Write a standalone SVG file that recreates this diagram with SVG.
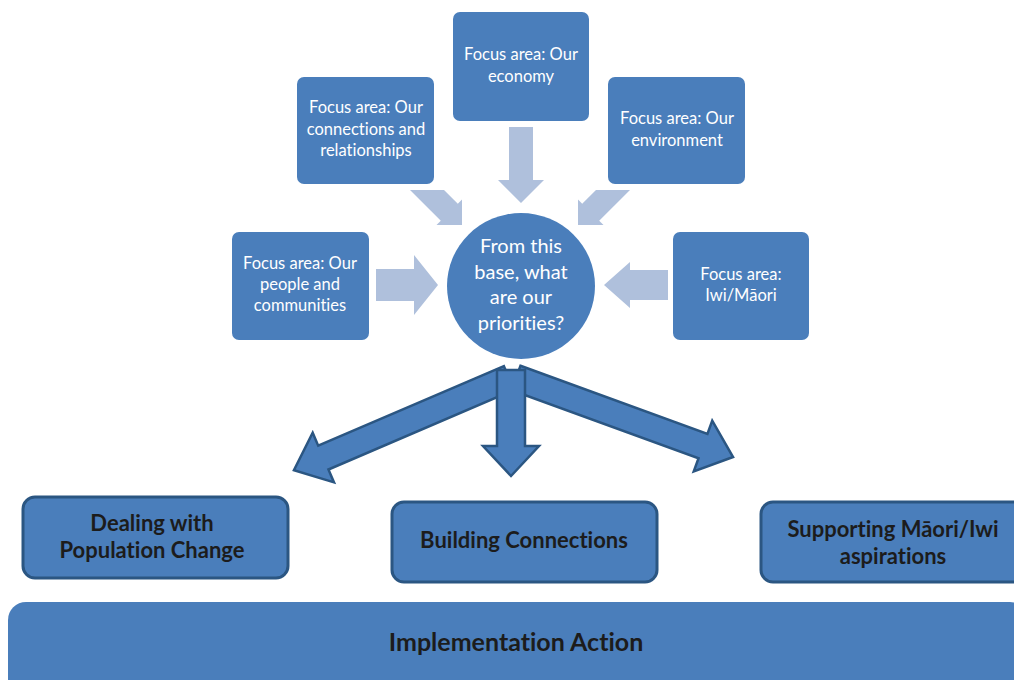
<svg xmlns="http://www.w3.org/2000/svg" width="1014" height="680" viewBox="0 0 1014 680">
<style>
.box{fill:#4a7ebb;}
.bbox{fill:#4a7ebb;stroke:#2b5682;stroke-width:3;}
text{font-variant-ligatures:none;}
.t{font-family:Lato,"Open Sans",sans-serif;font-size:16.5px;fill:#ffffff;text-anchor:middle;}
.c{font-family:Lato,"Open Sans",sans-serif;font-size:20px;fill:#ffffff;text-anchor:middle;}
.b{font-family:Lato,"Open Sans",sans-serif;font-size:22px;font-weight:bold;fill:#1c1c1c;text-anchor:middle;}
.big{font-family:Lato,"Open Sans",sans-serif;font-size:25px;font-weight:bold;fill:#1c1c1c;text-anchor:middle;}
.la{fill:#afc0dc;}
.da{fill:#4a7ebb;stroke:#2b5682;stroke-width:2.5;stroke-linejoin:miter;}
</style>
<rect width="1014" height="680" fill="#ffffff"/>
<g id="connectors">
<polygon class="la" points="376,269 414,269 414,255 438,285 414,315 414,301 376,301"/>
<polygon class="la" points="668,270 630,270 630,262 604,285 630,308 630,300 668,300"/>
<polygon class="la" points="509,127 533,127 533,180 544,180 521,203 498,180 509,180"/>
<polygon class="la" points="410,190 444,190 457.8,203.8 462,199.5 462,225 436.5,225 440.8,220.8"/>
<polygon class="la" points="630,190 596,190 582.2,203.8 578,199.5 578,225 603.5,225 599.2,220.8"/>
<polygon class="da" transform="translate(509,378) rotate(156.8)" points="0,-13 202,-13 202,-27 234,0 202,27 202,13 0,13"/>
<polygon class="da" transform="translate(516,378) rotate(20)" points="0,-13 199,-13 199,-27 231,0 199,27 199,13 0,13"/>
<polygon class="da" points="497,370 525,370 525,446 539,446 511,476 483,446 497,446"/>
</g>
<g id="economy"><rect class="box" x="453" y="12" width="136" height="109" rx="7"/><text class="t" x="521" y="60">Focus area: Our</text><text class="t" x="521" y="82">economy</text></g>
<g id="connections"><rect class="box" x="297" y="77" width="137" height="107" rx="7"/><text class="t" x="366" y="113">Focus area: Our</text><text class="t" x="366" y="135">connections and</text><text class="t" x="366" y="156">relationships</text></g>
<g id="environment"><rect class="box" x="608" y="77" width="137" height="107" rx="7"/><text class="t" x="677" y="124">Focus area: Our</text><text class="t" x="677" y="146">environment</text></g>
<g id="people"><rect class="box" x="232" y="232" width="137" height="108" rx="7"/><text class="t" x="300" y="269">Focus area: Our</text><text class="t" x="300" y="290">people and</text><text class="t" x="300" y="311">communities</text></g>
<g id="iwi"><rect class="box" x="673" y="232" width="136" height="108" rx="7"/><text class="t" x="741" y="280">Focus area:</text><text class="t" x="741" y="301">Iwi/Māori</text></g>
<g id="center"><ellipse class="box" cx="521" cy="286" rx="74" ry="73"/><text class="c" x="521" y="253">From  this</text><text class="c" x="521" y="279">base, what</text><text class="c" x="521" y="304">are our</text><text class="c" x="521" y="330">priorities?</text></g>
<g id="dealing"><rect class="bbox" x="23" y="497" width="265" height="81" rx="12"/><text class="b" x="152" y="531">Dealing with</text><text class="b" x="152" y="558">Population Change</text></g>
<g id="building"><rect class="bbox" x="392" y="502" width="265" height="80" rx="12"/><text class="b" x="524" y="548">Building Connections</text></g>
<g id="supporting"><rect class="bbox" x="761" y="502" width="270" height="80" rx="12"/><text class="b" x="893" y="537">Supporting Māori/Iwi</text><text class="b" x="893" y="564">aspirations</text></g>
<g id="implementation"><rect class="box" x="8" y="602" width="1020" height="95" rx="18"/><text class="big" x="516" y="651">Implementation Action</text></g>
</svg>
